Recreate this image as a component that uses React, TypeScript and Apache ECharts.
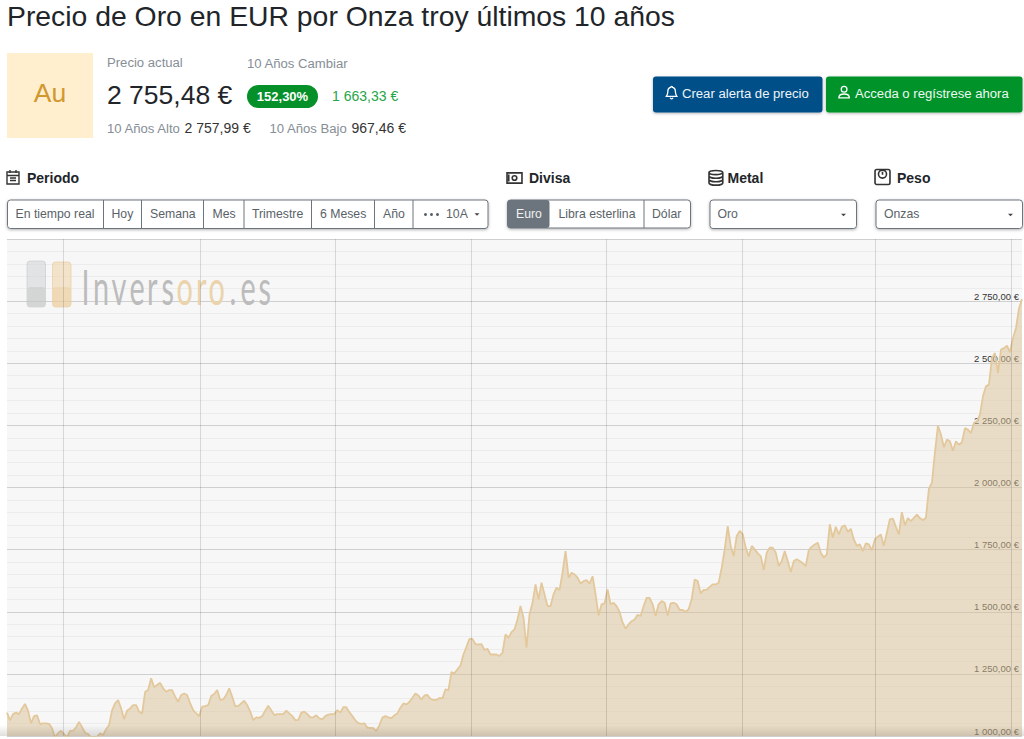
import React, { useEffect, useRef } from "react";
import * as echarts from "echarts";

const prices = [
  1094,1063,1088,1094,1088,1111,1129,1102,1051,1080,1083,1048,1051,1051,1049,1031,994,1011,1021,1008,
  994,1021,1021,1035,1057,1035,1013,1008,994,990,997,1011,1004,1027,1044,1104,1131,1145,1111,1068,
  1102,1111,1124,1124,1098,1091,1178,1185,1232,1196,1205,1214,1192,1178,1185,1185,1158,1138,1165,1171,
  1165,1131,1104,1091,1080,1118,1120,1124,1161,1169,1185,1145,1147,1165,1192,1158,1120,1120,1131,1142,
  1124,1098,1064,1075,1073,1080,1102,1122,1104,1084,1088,1088,1088,1102,1091,1080,1064,1064,1094,1098,
  1088,1075,1075,1083,1071,1067,1080,1086,1088,1088,1104,1094,
  1116,1116,1096,1080,1063,1052,1049,1051,1033,1033,1032,1020,1043,1074,1080,1075,1072,1083,1091,1114,
  1131,1127,1137,1154,1171,1163,1147,1163,1165,1150,1145,1145,1153,1151,1188,1185,1257,1252,1268,1284,
  1328,1359,1391,1391,1369,1369,1370,1346,1351,1328,1328,1328,1322,1335,1409,1395,1418,1429,1469,1523,
  1476,1355,1489,1536,1610,1550,1617,1570,1523,1523,1570,1597,1587,1657,1744,1637,1657,1650,1637,1613,
  1623,1627,1613,1643,1570,1485,1530,1534,1590,1530,1536,1523,1499,1456,1432,1449,1462,1469,1488,1483,
  1523,1556,1556,1530,1483,1530,1543,1536,1485,1534,1536,1530,1507,
  1507,1500,1510,1550,1630,1624,1574,1588,1588,1600,1610,1610,1617,1677,1751,1845,1765,1724,1805,1825,
  1812,1758,1722,1765,1751,1735,1724,1668,1738,1758,1758,1738,1684,1704,1744,1704,1660,1704,1711,1704,
  1695,1684,1748,1762,1771,1778,1738,1718,1731,1852,1798,1842,1811,1842,1848,1821,1834,1791,1765,1771,
  1744,1775,1771,1747,1791,1802,1811,1765,1818,1872,1875,1842,1811,1901,1848,1877,1865,1878,1891,1877,
  1868,1878,1995,2019,2139,2249,2213,2162,2193,2186,2148,2186,2172,2182,2239,2233,2219,2260,2266,2293,
  2367,2407,2414,2521,2541,2461,2555,2561,2571,2544,2602,2642,2720,2758,
];
const yearMarks = [18.83, 64.3, 109.2, 154.5, 199.7, 244.7, 289.2, 334.3];
const periods = ["En tiempo real", "Hoy", "Semana", "Mes", "Trimestre", "6 Meses", "Año"];
const periodTextX = [15.5, 111.5, 150, 212.5, 252, 320, 383];
const periodDividers = [103.5, 141.5, 203.5, 244, 311.5, 374.5, 413];
const currencies = ["Euro", "Libra esterlina", "Dólar"];
const logoLetters = ["I", "n", "v", "e", "r", "s", "o", "r", "o", ".", "e", "s"];
const logoLetterX = [81.5, 93, 111.5, 129.5, 147, 161.5, 176.5, 196, 208.5, 229.5, 240.5, 258.5];

const FF = '"Liberation Sans", Arial, sans-serif';
const icons: Record<string, string> = {
  icBell: "M8 1.5a1 1 0 0 1 1 1c2.5.5 3 2.5 3 4.5 0 2 .5 3.5 1.5 5h-11c1-1.5 1.5-3 1.5-5 0-2 .5-4 3-4.5a1 1 0 0 1 1-1z M6.5 13.5a1.6 1.6 0 0 0 3 0",
  icUser: "M8 2a3 3 0 1 1 0 6 3 3 0 0 1 0-6z M2.5 14c0-2.5 2-4 5.5-4s5.5 1.5 5.5 4z",
  icCal: "M2 3h12v12H2z M2 6.5h12 M5 1v3 M11 1v3 M5 9h6 M5 11.5h6",
  icCash: "M1.5 3.5h13v9h-13z M8 6a2 2 0 1 1 0 4 2 2 0 0 1 0-4z M3 5v6",
  icCoins: "M2 3.5a6 1.8 0 1 0 12 0a6 1.8 0 1 0 -12 0z M2 3.5v9c0 1 2.7 2 6 2s6-1 6-2v-9 M2 6.5c0 1 2.7 2 6 2s6-1 6-2 M2 9.5c0 1 2.7 2 6 2s6-1 6-2",
  icScale: "M3 2h10a1.5 1.5 0 0 1 1.5 1.5v10a1.5 1.5 0 0 1 -1.5 1.5H3a1.5 1.5 0 0 1 -1.5-1.5v-10A1.5 1.5 0 0 1 3 2z M8 2.5a3.5 3.5 0 1 1 0 7 3.5 3.5 0 0 1 0-7z M8 4v2.5",
};
Object.keys(icons).forEach((k) =>
  echarts.graphic.registerShape(k, echarts.graphic.extendPath(icons[k], {} as any) as any)
);

const T = (text: string, x: number, y: number, fill: string, size: number, weight = "400", align = "left", extra: any = {}) => ({
  type: "text", silent: true, z: 20,
  style: { text, x, y, fill, font: `${weight} ${size}px ${FF}`, textAlign: align, textVerticalAlign: "middle" },
  ...extra,
});
const R = (x: number, y: number, width: number, height: number, style: any, r = 0, z = 10) => ({
  type: "rect", silent: true, z, shape: { x, y, width, height, r }, style,
});
const L = (x1: number, y1: number, x2: number, y2: number, stroke: string) => ({
  type: "line", silent: true, z: 12, shape: { x1, y1, x2, y2 }, style: { stroke, lineWidth: 1 },
});
const Icon = (name: string, x: number, y: number, s: number, stroke: string) => ({
  type: name, silent: true, z: 20, x, y, scaleX: s, scaleY: s, style: { stroke, fill: "none", lineWidth: 1.4 },
});
const Caret = (x: number, y: number) => ({
  type: "polygon", silent: true, z: 20, shape: { points: [[x - 2.5, y - 1.3], [x + 2.5, y - 1.3], [x, y + 1.3]] }, style: { fill: "#444" },
});
const shadow = { shadowBlur: 3, shadowOffsetY: 1, shadowColor: "rgba(0,0,0,0.3)" };
const box = { fill: "#fff", stroke: "#6c757d", lineWidth: 1, ...shadow };
const GREY = "#868e96";
const DARK = "#212529";
const BTN = "#5a6268";
const S1 = 13.125;
const S2 = 12.25;

const graphics: any[] = [
  T("Precio de Oro en EUR por Onza troy últimos 10 años", 7, 15.5, DARK, 28.35),
  R(7, 53, 86, 85, { fill: "#ffefcf" }),
  T("Au", 50, 93, "#d2982f", 26.5, "400", "center"),
  T("Precio actual", 107, 62, GREY, S1),
  T("10 Años Cambiar", 247, 63, GREY, S1),
  T("2 755,48 €", 107, 94.5, DARK, 26.5),
  R(247, 85, 71, 23, { fill: "#069029" }, 11.5),
  T("152,30%", 282.5, 96.5, "#fff", 13, "700", "center"),
  T("1 663,33 €", 332, 96, "#25a546", 14),
  T("10 Años Alto", 107, 128, GREY, S1),
  T("2 757,99 €", 184.5, 128, "#333", 14),
  T("10 Años Bajo", 269.5, 128, GREY, S1),
  T("967,46 €", 351.5, 128, "#333", 14),
  R(653, 76.5, 169.5, 36, { fill: "#004f88", ...shadow }, 3),
  Icon("icBell", 664, 85, 0.95, "#fff"),
  T("Crear alerta de precio", 682, 93.5, "#eef4f8", S1),
  R(826, 76.5, 196.5, 36, { fill: "#06932c", ...shadow }, 3),
  Icon("icUser", 836.5, 84.5, 0.95, "#fff"),
  T("Acceda o regístrese ahora", 855, 93.5, "#eef8f0", S1),

  Icon("icCal", 5, 169, 1, "#333"),
  T("Periodo", 27, 178, DARK, 14, "700"),
  R(7.5, 200, 480.5, 28.5, box, 3),
  ...periods.map((p, i) => T(p, periodTextX[i], 213.5, BTN, S2)),
  ...periodDividers.map((x) => L(x, 200, x, 228.5, "#6c757d")),
  { type: "circle", silent: true, z: 20, shape: { cx: 425.5, cy: 214.5, r: 1.5 }, style: { fill: BTN } },
  { type: "circle", silent: true, z: 20, shape: { cx: 431.5, cy: 214.5, r: 1.5 }, style: { fill: BTN } },
  { type: "circle", silent: true, z: 20, shape: { cx: 437.5, cy: 214.5, r: 1.5 }, style: { fill: BTN } },
  T("10A", 446, 213.5, BTN, S2),
  Caret(477, 214.5),

  Icon("icCash", 505.3, 168.8, 1.15, "#333"),
  T("Divisa", 529, 178, DARK, 14, "700"),
  R(507.5, 200, 183, 28, box, 3),
  R(507.5, 200, 42, 28, { fill: "#6c757d" }, 3, 11),
  T(currencies[0], 516, 213.5, "#f0f2f3", S2),
  T(currencies[1], 558.5, 213.5, BTN, S2),
  T(currencies[2], 652, 213.5, BTN, S2),
  L(644, 200, 644, 228, "#6c757d"),

  Icon("icCoins", 706.7, 168.5, 1.15, "#333"),
  T("Metal", 727.5, 178, DARK, 14, "700"),
  R(710, 200, 146.5, 28.5, box, 3),
  T("Oro", 717.5, 213.5, BTN, S2),
  Caret(843.5, 215),

  Icon("icScale", 873.3, 167.2, 1.15, "#333"),
  T("Peso", 897, 178, DARK, 14, "700"),
  R(876, 200, 146.5, 28.5, box, 3),
  T("Onzas", 884, 213.5, BTN, S2),
  Caret(1010.5, 215),

  R(27, 261, 18.5, 46, { fill: "rgba(205,207,209,0.5)", stroke: "rgba(190,192,194,0.5)", lineWidth: 1 }, 3, 5),
  R(27.5, 287, 17.5, 19.5, { fill: "rgba(185,188,190,0.35)" }, 3, 5),
  R(52.5, 262, 18.5, 45, { fill: "rgba(240,212,165,0.55)", stroke: "rgba(232,200,150,0.6)", lineWidth: 1 }, 3, 5),
  R(53, 287, 17.5, 19.5, { fill: "rgba(232,196,140,0.3)" }, 3, 5),
  ...logoLetters.map((ch, i) => ({
    type: "text", silent: true, z: 5, x: logoLetterX[i], y: 286, scaleX: 0.6, scaleY: 1,
    style: {
      text: ch, x: 0, y: 0, fill: i >= 6 && i <= 8 ? "#ebd3ac" : "#bcbcbc",
      font: "400 48px Lato", textVerticalAlign: "middle",
    },
  })),

  R(0, 725, 1024, 11, {
    fill: new echarts.graphic.LinearGradient(0, 0, 0, 1, [
      { offset: 0, color: "rgba(90,80,70,0)" },
      { offset: 1, color: "rgba(90,80,70,0.18)" },
    ]),
  }, 0, 15),
];

const fmt = (v: number) => `${Math.floor(v / 1000)} ${String(v % 1000).padStart(3, "0")},00 €`;

export default function App() {
  const ref = useRef<HTMLDivElement>(null);
  useEffect(() => {
    const chart = echarts.init(ref.current!, undefined, { renderer: "svg" });
    chart.setOption({
      animation: false,
      backgroundColor: "#fff",
      grid: { left: 7, top: 239, width: 1015, height: 497, show: true, backgroundColor: "#f7f7f7", borderWidth: 0 },
      xAxis: { type: "value", min: 0, max: prices.length - 1, show: false, splitLine: { show: false } },
      yAxis: {
        type: "value", position: "right", min: 1000, max: 3000, interval: 250,
        axisLine: { show: false }, axisTick: { show: false },
        axisLabel: {
          inside: true, margin: 3, showMaxLabel: false, verticalAlign: "bottom", fontSize: 9.5,
          fontFamily: FF, color: "#333", formatter: fmt,
        },
        splitLine: { show: true, lineStyle: { color: "#cfcfcf", width: 1 } },
        minorTick: { show: false, splitNumber: 5 },
        minorSplitLine: { show: true, lineStyle: { color: "#ececec", width: 1 } },
      },
      graphic: { elements: graphics },
      series: [{
        type: "line", symbol: "none", smooth: false,
        data: prices.map((p, i) => [i, p]),
        lineStyle: { color: "#e3c89c", width: 1.8 },
        areaStyle: { color: "rgb(217,193,149)", opacity: 0.5 },
        markLine: {
          silent: true, symbol: "none", label: { show: false },
          lineStyle: { color: "rgba(0,0,0,0.13)", type: "solid", width: 1 },
          data: yearMarks.map((x) => ({ xAxis: x })),
        },
      }],
    });
    return () => chart.dispose();
  }, []);
  return <div ref={ref} style={{ position: "absolute", left: 0, top: 0, width: 1024, height: 739 }} />;
}
